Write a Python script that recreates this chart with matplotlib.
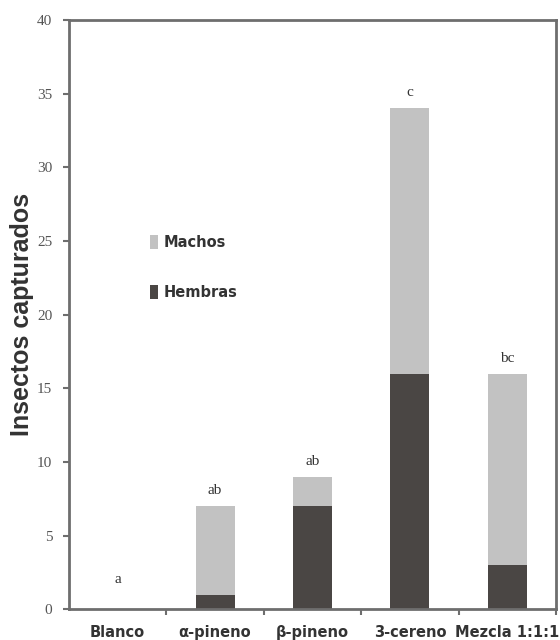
import matplotlib
matplotlib.use("Agg")
import matplotlib.pyplot as plt
from matplotlib.patches import Patch

categories = ["Blanco", "α-pineno", "β-pineno", "3-cereno", "Mezcla 1:1:1"]
hembras = [0, 1, 7, 16, 3]
machos = [0, 6, 2, 18, 13]
letters = ["a", "ab", "ab", "c", "bc"]
y_ticks = [0, 5, 10, 15, 20, 25, 30, 35, 40]

c_machos = "#c2c2c2"
c_hembras = "#4a4644"
c_axis = "#6e6e6e"

fig = plt.figure(figsize=(5.6, 6.4), dpi=100)
ax = fig.add_axes([0.123, 0.048, 0.870, 0.921])

x = list(range(len(categories)))
width = 0.4
ax.bar(x, hembras, width, color=c_hembras, zorder=2)
ax.bar(x, machos, width, bottom=hembras, color=c_machos, zorder=2)

totals = [h + m for h, m in zip(hembras, machos)]
for xi, t, lab in zip(x, totals, letters):
    y = t + 0.6 if t > 0 else 1.6
    ax.text(xi, y, lab, ha="center", va="bottom", family="Liberation Serif",
            fontsize=11, color="#333333")

ax.set_xlim(-0.5, 4.5)
ax.set_ylim(0, 40)
ax.set_yticks(y_ticks)
ax.set_yticklabels([str(v) for v in y_ticks], family="Liberation Serif",
                   fontsize=11, color="#555555")
ax.set_xticks(x)
ax.set_xticklabels(categories, family="DejaVu Sans", fontweight="bold",
                   fontsize=10.5, color="#333333")
ax.set_xticks([i + 0.5 for i in x], minor=True)
ax.tick_params(axis="x", which="major", length=0, pad=11)
ax.tick_params(axis="x", which="minor", length=4, width=1.5, color=c_axis,
               direction="out")
ax.tick_params(axis="y", length=4, width=1.5, color=c_axis, direction="out",
               pad=8)

for s in ax.spines.values():
    s.set_color(c_axis)
    s.set_linewidth(2)

ax.set_ylabel("Insectos capturados", family="Liberation Sans",
              fontweight="bold", fontsize=18, color="#333333", labelpad=2)

handles = [Patch(facecolor=c_machos, label="Machos"),
           Patch(facecolor=c_hembras, label="Hembras")]
leg = ax.legend(handles=handles, loc="upper left", bbox_to_anchor=(0.14, 0.657),
                frameon=False, handlelength=0.5, handleheight=1.1,
                handletextpad=0.45, labelspacing=2.38,
                prop={"family": "DejaVu Sans", "weight": "bold", "size": 10.5})
for t in leg.get_texts():
    t.set_color("#333333")

fig.savefig("out.png", dpi=100)
